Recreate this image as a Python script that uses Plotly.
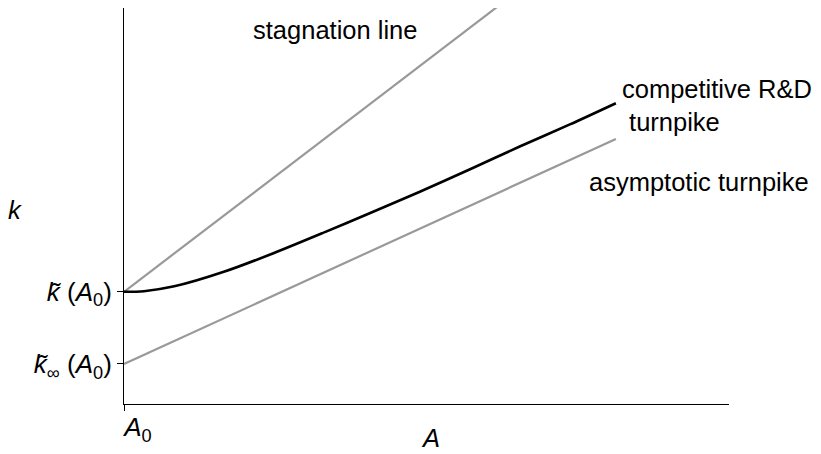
import plotly.graph_objects as go

# Data (in abstract axis units; A0 = 0)
stag_A = [0.0, 6.17]
stag_k = [1.85, 6.55]

asym_A = [0.0, 8.13]
asym_k = [0.66, 4.37]

comp_A = [0.0, 0.33, 0.83, 1.65, 2.48, 3.31, 4.07, 4.89, 5.72, 6.55, 7.37, 8.13]
comp_k = [1.85, 1.86, 1.94, 2.18, 2.49, 2.83, 3.15, 3.50, 3.87, 4.25, 4.61, 4.96]

ytick_vals = [0.66, 1.85]
ytick_text = ["<i>k̃</i><sub>∞</sub> (<i>A</i><sub>0</sub>)", "<i>k̃</i> (<i>A</i><sub>0</sub>)"]
xtick_vals = [0.0]
xtick_text = ["<i>A</i><sub>0</sub>"]

FONT = "Liberation Sans, Arial, sans-serif"
FS = 25.5
TFS = 26

# page has an 8px body margin; plot area spans page x 124..729, y 8..404
fig = go.Figure()
fig.add_trace(go.Scatter(x=stag_A, y=stag_k, mode="lines",
                         line=dict(color="#999999", width=2.2), hoverinfo="skip"))
fig.add_trace(go.Scatter(x=asym_A, y=asym_k, mode="lines",
                         line=dict(color="#999999", width=2.2), hoverinfo="skip"))
fig.add_trace(go.Scatter(x=comp_A, y=comp_k, mode="lines", line_shape="spline",
                         line=dict(color="black", width=2.6, smoothing=0.8), hoverinfo="skip"))

fig.update_layout(
    width=813, height=446,
    margin=dict(l=116, r=92, t=0, b=50),
    paper_bgcolor="white", plot_bgcolor="white",
    showlegend=False,
    font=dict(family=FONT, size=FS, color="black"),
)
fig.update_xaxes(range=[0, 10], showgrid=False, zeroline=False, automargin=False,
                 showline=True, linecolor="black", linewidth=1,
                 ticks="outside", ticklen=6, tickcolor="black",
                 tickvals=xtick_vals, ticktext=xtick_text,
                 ticklabelshift=14, ticklabelstandoff=-6, tickfont=dict(size=TFS))
fig.update_yaxes(range=[0, 6.53], showgrid=False, zeroline=False, automargin=False,
                 showline=True, linecolor="black", linewidth=1,
                 ticks="outside", ticklen=6, tickcolor="black",
                 tickvals=ytick_vals, ticktext=ytick_text,
                 tickfont=dict(size=TFS))

ann = [
    dict(x=2.10, y=6.16, text="stagnation line", xanchor="left", yanchor="middle"),
    dict(x=8.20, y=4.93, text="competitive R&amp;D<br> turnpike", xanchor="left",
         yanchor="middle", align="left"),
    dict(x=7.66, y=3.66, text="asymptotic turnpike", xanchor="left", yanchor="middle"),
]
for a in ann:
    fig.add_annotation(xref="x", yref="y", showarrow=False,
                       font=dict(size=FS), **a)

fig.add_annotation(xref="paper", yref="paper", x=(15 - 124) / 605, y=(404 - 210) / 396,
                   text="<i>k</i>", showarrow=False, xanchor="center", yanchor="middle",
                   font=dict(size=FS))
fig.add_annotation(xref="paper", yref="paper", x=(430 - 124) / 605, y=(404 - 438) / 396,
                   text="<i>A</i>", showarrow=False, xanchor="center", yanchor="middle",
                   font=dict(size=FS))

fig.write_html("out.html")
